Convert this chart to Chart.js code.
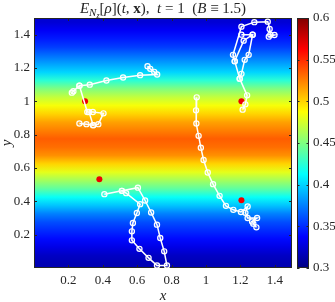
<!DOCTYPE html>
<html><head><meta charset="utf-8">
<script src="https://cdn.jsdelivr.net/npm/chart.js@4/dist/chart.umd.min.js"></script>
<style>html,body{margin:0;padding:0;background:#fff;} canvas{display:block;}</style>
</head><body>
<canvas id="c" width="335" height="302"></canvas>
<script>
// ---- data ----
const xTicks = [0.2, 0.4, 0.6, 0.8, 1, 1.2, 1.4];
const yTicks = [0.2, 0.4, 0.6, 0.8, 1, 1.2, 1.4];
const cbTicks = [0.3, 0.35, 0.4, 0.45, 0.5, 0.55, 0.6];

// heat-map rows (field is nearly constant along x)
const rowY = [0.025,0.075,0.125,0.175,0.225,0.275,0.325,0.375,0.425,0.475,
              0.525,0.575,0.625,0.675,0.725,0.775,0.825,0.875,0.925,0.975,
              1.025,1.075,1.125,1.175,1.225,1.275,1.325,1.375,1.425,1.475];
const rowValues = [0.315,0.32,0.33,0.34,0.35,0.36,0.375,0.395,0.415,0.44,
                   0.46,0.48,0.50,0.52,0.53,0.535,0.525,0.515,0.50,0.485,
                   0.47,0.45,0.425,0.40,0.385,0.37,0.355,0.345,0.335,0.325];

// particle trajectories (white)
const trajA1 = [[0.660,1.211],[0.676,1.195],[0.699,1.177],[0.716,1.161],[0.617,1.157],[0.518,1.143],
                [0.421,1.125],[0.324,1.100],[0.264,1.094],[0.229,1.061],[0.220,1.052]];
const trajA2 = [[0.264,1.094],[0.310,0.936],[0.342,0.936],[0.404,0.928],[0.374,0.863],[0.344,0.857],
                [0.305,0.863],[0.264,0.867]];
const trajA3 = [[0.320,0.936],[0.344,0.857]];
const trajB1 = [[1.213,0.950],[1.229,0.982],[1.239,1.036],[1.196,1.136],[1.167,1.241],[1.157,1.279],
                [1.206,1.448],[1.281,1.475],[1.359,1.478],[1.370,1.434],[1.374,1.400],[1.398,1.398],[1.365,1.388]];
const trajB2 = [[1.206,1.400],[1.271,1.400],[1.248,1.279],[1.225,1.249],[1.206,1.165],[1.196,1.136]];
const trajB3 = [[1.271,1.400],[1.219,1.364],[1.167,1.241]];
const trajC = [[0.946,1.024],[0.942,0.946],[0.944,0.867],[0.957,0.793],[0.970,0.722],[0.986,0.648],
               [1.010,0.573],[1.041,0.503],[1.079,0.433],[1.116,0.373],[1.159,0.349],[1.203,0.336],
               [1.242,0.369],[1.229,0.331],[1.242,0.300],[1.297,0.300],[1.268,0.279],[1.293,0.244],[1.275,0.266]];
const trajD = [[0.409,0.443],[0.511,0.463],[0.604,0.482],[0.646,0.405],[0.681,0.333],[0.715,0.260],
               [0.734,0.180],[0.757,0.100],[0.773,0.015],[0.715,0.015],[0.666,0.061],[0.613,0.115],
               [0.569,0.166],[0.569,0.220],[0.575,0.270],[0.598,0.330],[0.617,0.383],[0.536,0.449],[0.511,0.463]];
// current positions (red)
const redPoints = [[0.297,1.000],[1.206,1.000],[1.206,0.406],[0.380,0.533]];

// ---- drawing ----
const SERIF = '"Liberation Serif", "DejaVu Serif", serif';
const INK = '#262626';
function jet(v){
  const t = (v - 0.3) / 0.3;
  const c = z => Math.max(0, Math.min(1, z));
  const r = c(1.5 - Math.abs(4*t - 3)), g = c(1.5 - Math.abs(4*t - 2)), b = c(1.5 - Math.abs(4*t - 1));
  return `rgb(${Math.round(r*255)},${Math.round(g*255)},${Math.round(b*255)})`;
}
const pts = a => a.map(([x,y]) => ({x, y}));

const heatPlugin = {
  id: 'heat',
  beforeDatasetsDraw(chart){
    const {ctx, chartArea: a, scales: {x, y, cb}} = chart;
    ctx.save();
    const y0 = y.getPixelForValue(0), y1 = y.getPixelForValue(1.5);
    const g = ctx.createLinearGradient(0, y0, 0, y1);
    rowY.forEach((v, i) => g.addColorStop((y.getPixelForValue(v) - y0) / (y1 - y0), jet(rowValues[i])));
    const xl = x.getPixelForValue(0), xr = x.getPixelForValue(1.5);
    ctx.fillStyle = g;
    ctx.fillRect(xl, y1, xr - xl, y0 - y1);
    // frame with inward ticks
    ctx.strokeStyle = INK; ctx.lineWidth = 1;
    ctx.strokeRect(Math.round(xl) + 0.5, Math.round(y1) + 0.5, Math.round(xr - xl) - 1, Math.round(y0 - y1) - 1);
    ctx.beginPath();
    xTicks.forEach(v => { const p = Math.round(x.getPixelForValue(v)) + 0.5;
      ctx.moveTo(p, y0); ctx.lineTo(p, y0 - 3); ctx.moveTo(p, y1); ctx.lineTo(p, y1 + 3); });
    yTicks.forEach(v => { const p = Math.round(y.getPixelForValue(v)) + 0.5;
      ctx.moveTo(xl, p); ctx.lineTo(xl + 3, p); ctx.moveTo(xr, p); ctx.lineTo(xr - 3, p); });
    ctx.stroke();
    // colorbar
    const c0 = cb.getPixelForValue(0.3), c1 = cb.getPixelForValue(0.6);
    const g2 = ctx.createLinearGradient(0, c0, 0, c1);
    for (let k = 0; k <= 8; k++) g2.addColorStop(k / 8, jet(0.3 + 0.3 * k / 8));
    const bx = cb.left + 5, bw = 12;
    ctx.fillStyle = g2;
    ctx.fillRect(bx, c1, bw, c0 - c1);
    ctx.strokeStyle = INK;
    ctx.strokeRect(Math.round(bx) + 0.5, Math.round(c1) + 0.5, bw - 1, Math.round(c0 - c1) - 1);
    ctx.beginPath();
    cbTicks.forEach(v => { const p = Math.round(cb.getPixelForValue(v)) + 0.5;
      ctx.moveTo(bx + bw, p); ctx.lineTo(bx + bw - 2.5, p); ctx.moveTo(bx, p); ctx.lineTo(bx + 2.5, p); });
    ctx.stroke();
    ctx.restore();
  },
  afterDraw(chart){
    const {ctx, chartArea: a} = chart;
    const parts = [
      ['E', 'italic 15px ' + SERIF, 0],
      ['N', 'italic 11px ' + SERIF, 3],
      ['z', 'italic 8px ' + SERIF, 5],
      ['[', '15px ' + SERIF, 0],
      ['ρ', 'italic 15px ' + SERIF, 0],
      ['](', '15px ' + SERIF, 0],
      ['t', 'italic 15px ' + SERIF, 0],
      [', ', '15px ' + SERIF, 0],
      ['x', 'bold 15px ' + SERIF, 0],
      ['),  ', '15px ' + SERIF, 0],
      ['t', 'italic 15px ' + SERIF, 0],
      [' = 1  (', '15px ' + SERIF, 0],
      ['B', 'italic 15px ' + SERIF, 0],
      [' ≡ 1.5)', '15px ' + SERIF, 0]
    ];
    ctx.save();
    ctx.fillStyle = INK; ctx.textBaseline = 'alphabetic'; ctx.textAlign = 'left';
    let w = 0;
    parts.forEach(p => { ctx.font = p[1]; w += ctx.measureText(p[0]).width; });
    let cx = (a.left + a.right) / 2 - w / 2;
    parts.forEach(p => { ctx.font = p[1]; ctx.fillText(p[0], cx, 13 + p[2]); cx += ctx.measureText(p[0]).width; });
    ctx.restore();
  }
};

const white = d => ({type: 'scatter', data: pts(d), showLine: true, borderColor: '#ffffff', borderWidth: 1.5,
  pointRadius: 2.6, pointBorderWidth: 1.2, pointBorderColor: '#ffffff', pointBackgroundColor: 'rgba(255,255,255,0.15)'});

const noPad = s => { s.paddingTop = 0; s.paddingBottom = 0; s.paddingLeft = 0; s.paddingRight = 0; };
const tickFont = {family: SERIF, size: 13};
new Chart(document.getElementById('c'), {
  type: 'scatter',
  data: {datasets: [
    white(trajA1), white(trajA2), white(trajA3), white(trajB1), white(trajB2), white(trajB3), white(trajC), white(trajD),
    {type: 'scatter', data: pts(redPoints), pointRadius: 3, pointBorderWidth: 0, pointBackgroundColor: '#ee0000'}
  ]},
  plugins: [heatPlugin],
  options: {
    responsive: false, animation: false, devicePixelRatio: 1,
    layout: {padding: {top: 18, left: 0, right: 0, bottom: 0}},
    plugins: {legend: {display: false}, tooltip: {enabled: false}, title: {display: false}},
    scales: {
      x: {type: 'linear', min: 0, max: 1.5, position: 'bottom',
        grid: {display: false, drawTicks: false}, border: {display: false},
        afterBuildTicks: s => { s.ticks = xTicks.map(v => ({value: v})); },
        afterFit: s => { s.height = 34; noPad(s); },
        ticks: {padding: 5, font: tickFont, color: INK, maxRotation: 0, autoSkip: false, callback: v => String(v)},
        title: {display: true, text: 'x', color: INK, padding: {top: 0, bottom: -2}, font: {family: SERIF, size: 15, style: 'italic', lineHeight: 1}}},
      y: {type: 'linear', min: 0, max: 1.5, position: 'left',
        grid: {display: false, drawTicks: false}, border: {display: false},
        afterBuildTicks: s => { s.ticks = yTicks.map(v => ({value: v})); },
        afterFit: s => { s.width = 34; noPad(s); },
        ticks: {padding: 4, font: tickFont, color: INK, autoSkip: false, callback: v => String(v)},
        title: {display: true, text: 'y', color: INK, padding: 0, font: {family: SERIF, size: 15, style: 'italic', lineHeight: 1}}},
      cb: {type: 'linear', axis: 'y', min: 0.3, max: 0.6, position: 'right',
        grid: {display: false, drawTicks: false}, border: {display: false},
        afterBuildTicks: s => { s.ticks = cbTicks.map(v => ({value: v})); },
        afterFit: s => { s.width = 43; noPad(s); },
        ticks: {padding: 21, font: tickFont, color: INK, autoSkip: false, callback: v => String(v)}}
    }
  }
});
</script>
</body></html>
